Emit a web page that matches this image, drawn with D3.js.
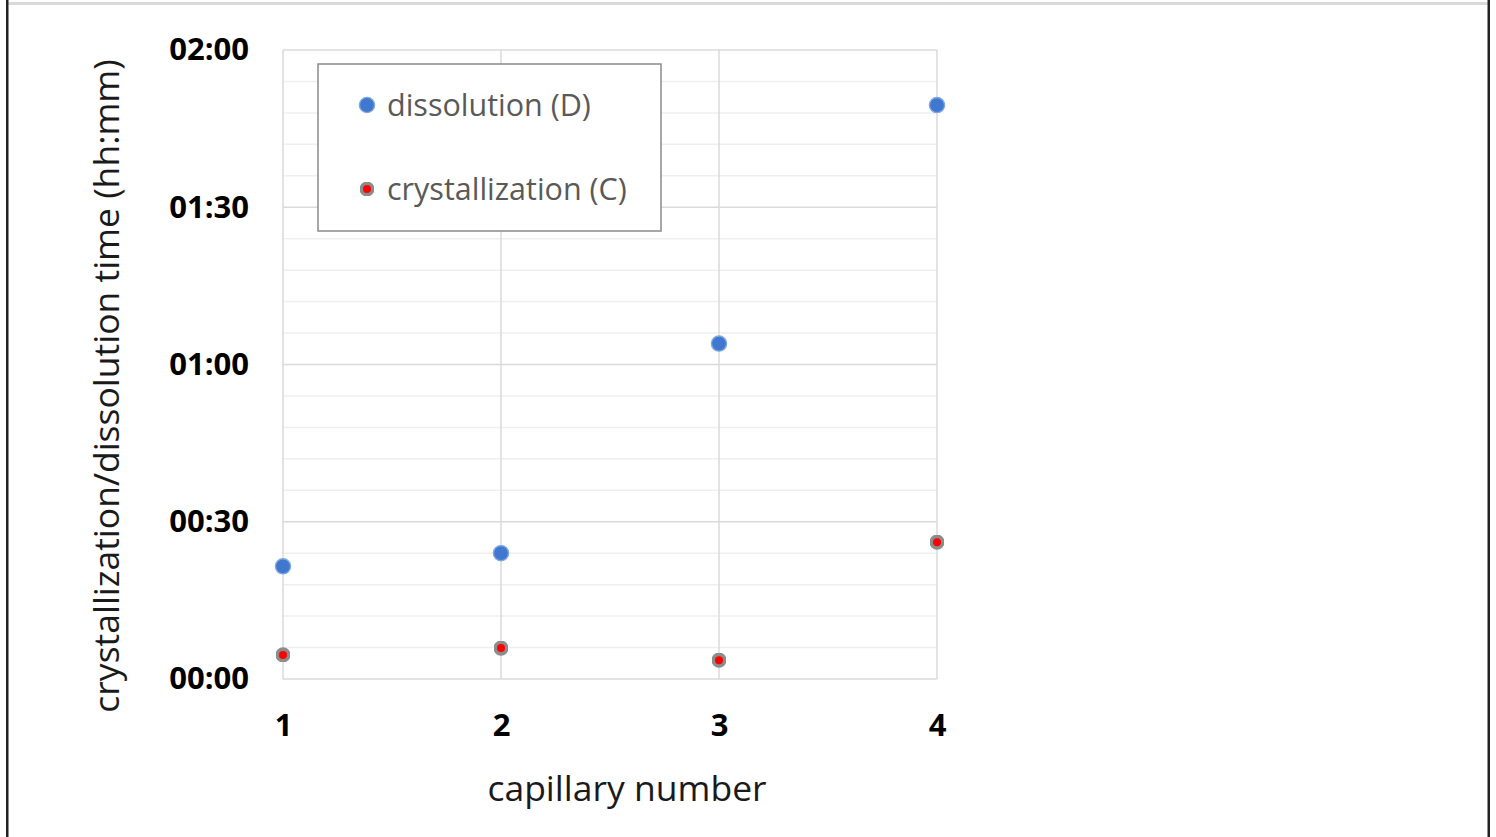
<!DOCTYPE html>
<html>
<head>
<meta charset="utf-8">
<script src="https://cdn.jsdelivr.net/npm/d3@7"></script>
<style>
  body { margin: 0; background: #fff; }
  svg { display: block; }
</style>
</head>
<body>
<div id="chart"></div>
<script>
(function() {
var WIDTH = 1496;
var HEIGHT = 837;

// capillary numbers and times in minutes
var capillaries = [1, 2, 3, 4];
var dissolution = [21.5, 24, 64, 109.5];
var crystallization = [4.6, 5.9, 3.6, 26.1];
var yTicks = [0, 30, 60, 90, 120];
var seriesNames = ['dissolution (D)', 'crystallization (C)'];

var FONT = '"Open Sans", Lato, sans-serif';

var svg = d3.select('#chart').append('svg')
  .attr('width', WIDTH)
  .attr('height', HEIGHT);

// outer frame
svg.append('rect').attr('x', 6).attr('y', 2).attr('width', 1484).attr('height', 3).attr('fill', '#d9d9d9');
svg.append('rect').attr('x', 6).attr('y', 0).attr('width', 2.5).attr('height', HEIGHT).attr('fill', '#222');
svg.append('rect').attr('x', 1487.5).attr('y', 0).attr('width', 2.5).attr('height', HEIGHT).attr('fill', '#222');

var x = d3.scaleLinear().domain([1, 4]).range([283, 937]);
var y = d3.scaleLinear().domain([0, 120]).range([679, 50]);

function fmt(m) {
  var h = Math.floor(m / 60), mm = m % 60;
  return (h < 10 ? '0' : '') + h + ':' + (mm < 10 ? '0' : '') + mm;
}

// minor grid every 6 minutes
var g = svg.append('g');
g.selectAll('line.minor')
  .data(d3.range(0, 121, 6).filter(function(d) { return d % 30 !== 0; }))
  .enter().append('line')
  .attr('x1', x(1)).attr('x2', x(4))
  .attr('y1', function(d) { return y(d); }).attr('y2', function(d) { return y(d); })
  .attr('stroke', '#efefef').attr('stroke-width', 1.5);
g.selectAll('line.major')
  .data(yTicks)
  .enter().append('line')
  .attr('x1', x(1)).attr('x2', x(4))
  .attr('y1', function(d) { return y(d); }).attr('y2', function(d) { return y(d); })
  .attr('stroke', '#dadada').attr('stroke-width', 1.5);
g.selectAll('line.vert')
  .data(capillaries)
  .enter().append('line')
  .attr('x1', function(d) { return x(d); }).attr('x2', function(d) { return x(d); })
  .attr('y1', y(0)).attr('y2', y(120))
  .attr('stroke', '#dadada').attr('stroke-width', 1.5);

// axes (labels only)
var yAxis = svg.append('g').attr('transform', 'translate(' + x(1) + ',0)')
  .call(d3.axisLeft(y).tickValues(yTicks).tickFormat(fmt).tickSize(0).tickPadding(34));
var xAxis = svg.append('g').attr('transform', 'translate(0,' + y(0) + ')')
  .call(d3.axisBottom(x).tickValues(capillaries).tickFormat(d3.format('d')).tickSize(0).tickPadding(35));
[yAxis, xAxis].forEach(function(a) {
  a.select('.domain').remove();
  a.selectAll('text')
    .attr('font-family', FONT)
    .attr('font-weight', 'bold')
    .attr('font-size', 31)
    .attr('fill', '#000');
});

// axis titles
svg.append('text')
  .attr('transform', 'translate(119,386) rotate(-90)')
  .attr('text-anchor', 'middle')
  .attr('font-family', FONT)
  .attr('font-size', 35.5)
  .attr('fill', '#1a1a1a')
  .text('crystallization/dissolution time (hh:mm)');
svg.append('text')
  .attr('x', 627).attr('y', 801)
  .attr('text-anchor', 'middle')
  .attr('font-family', FONT)
  .attr('font-size', 35.5)
  .attr('fill', '#1a1a1a')
  .text('capillary number');

// markers
var defs = svg.append('defs');
var blur = defs.append('filter').attr('id', 'soft');
blur.append('feGaussianBlur').attr('stdDeviation', 0.6);

function drawD(sel) {
  sel.attr('r', 7.6).attr('fill', '#3f78cf').attr('stroke', '#80a8e2').attr('stroke-width', 1.4)
    .attr('filter', 'url(#soft)');
}
function drawC(sel) {
  sel.attr('r', 5.8).attr('fill', '#ff0000').attr('stroke', '#8c8c8c').attr('stroke-width', 3.6)
    .attr('filter', 'url(#soft)');
}

svg.append('g').selectAll('circle')
  .data(capillaries)
  .enter().append('circle')
  .attr('cx', function(d) { return x(d); })
  .attr('cy', function(d, i) { return y(dissolution[i]); })
  .call(drawD);
svg.append('g').selectAll('circle')
  .data(capillaries)
  .enter().append('circle')
  .attr('cx', function(d) { return x(d); })
  .attr('cy', function(d, i) { return y(crystallization[i]); })
  .call(drawC);

// legend
var legend = svg.append('g');
legend.append('rect')
  .attr('x', 318).attr('y', 64).attr('width', 343).attr('height', 167)
  .attr('fill', '#fff').attr('stroke', '#8a8a8a').attr('stroke-width', 1.5);
var items = legend.selectAll('g.item')
  .data(seriesNames)
  .enter().append('g')
  .attr('transform', function(d, i) { return 'translate(367,' + (105 + i * 84) + ')'; });
items.append('circle').each(function(d, i) {
  d3.select(this).call(i === 0 ? drawD : drawC);
});
items.append('text')
  .attr('x', 20).attr('dy', '0.35em')
  .attr('font-family', FONT)
  .attr('font-size', 30.5)
  .attr('fill', '#595959')
  .text(function(d) { return d; });
})();
</script>
</body>
</html>
